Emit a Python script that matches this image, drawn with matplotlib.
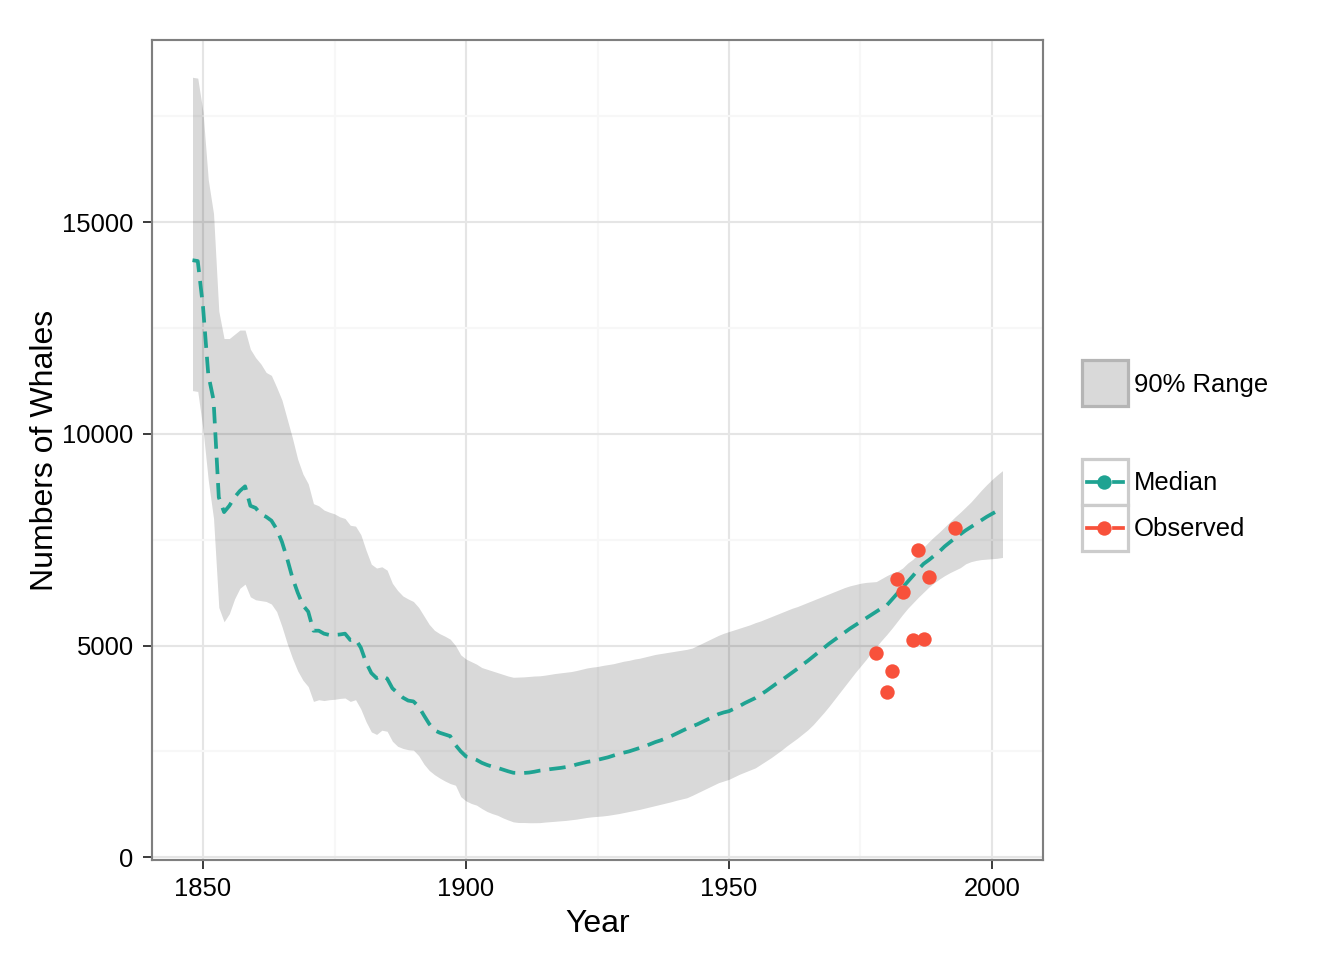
import matplotlib
matplotlib.use("Agg")
import matplotlib.pyplot as plt
from matplotlib.patches import Rectangle
from matplotlib.lines import Line2D
import numpy as np

plt.rcParams['font.family'] = ['Liberation Sans', 'DejaVu Sans']

# yearly model output, 1848-2002
years = list(range(1848, 2003))

upper = [18420, 18400, 17600, 16000, 15200, 12900, 12250, 12250, 12350, 12450,
         12450, 12000, 11800, 11650, 11450, 11380, 11100, 10800, 10350, 9900,
         9400, 9050, 8820, 8350, 8300, 8200, 8150, 8110, 8040, 8000,
         7840, 7820, 7620, 7250, 6920, 6830, 6860, 6780, 6470, 6300,
         6170, 6100, 6040, 5900, 5700, 5500, 5360, 5280, 5220, 5150,
         5000, 4780, 4680, 4620, 4560, 4480, 4440, 4400, 4360, 4320,
         4280, 4250, 4255, 4260, 4270, 4280, 4285, 4300, 4320, 4340,
         4355, 4370, 4385, 4410, 4440, 4470, 4490, 4505, 4530, 4550,
         4570, 4600, 4630, 4650, 4680, 4700, 4730, 4760, 4790, 4810,
         4830, 4850, 4870, 4890, 4910, 4940, 5000, 5060, 5120, 5180,
         5240, 5290, 5330, 5370, 5410, 5450, 5490, 5540, 5580, 5630,
         5680, 5730, 5780, 5830, 5880, 5920, 5970, 6020, 6070, 6120,
         6170, 6220, 6270, 6320, 6370, 6410, 6440, 6470, 6490, 6500,
         6510, 6580, 6650, 6710, 6750, 6830, 6950, 7040, 7180, 7320,
         7450, 7570, 7680, 7800, 7920, 8040, 8150, 8270, 8390, 8530,
         8670, 8800, 8920, 9030, 9130]

lower = [11020, 11000, 10100, 8900, 8000, 5900, 5560, 5750, 6100, 6350,
         6450, 6150, 6080, 6060, 6040, 5980, 5800, 5450, 5050, 4700,
         4400, 4180, 4030, 3680, 3720, 3700, 3720, 3730, 3750, 3760,
         3680, 3720, 3500, 3200, 2960, 2900, 3000, 2975, 2740, 2620,
         2570, 2540, 2530, 2400, 2200, 2050, 1950, 1870, 1800, 1740,
         1700, 1430, 1330, 1270, 1230, 1150, 1080, 1030, 990, 930,
         880, 835, 820, 820, 815, 815, 817, 830, 840, 850,
         860, 870, 885, 900, 920, 940, 955, 965, 975, 990,
         1010, 1030, 1055, 1080, 1105, 1130, 1160, 1190, 1220, 1250,
         1280, 1310, 1345, 1375, 1405, 1460, 1520, 1580, 1640, 1700,
         1760, 1800, 1840, 1900, 1960, 2010, 2060, 2110, 2190, 2270,
         2350, 2440, 2530, 2630, 2720, 2810, 2910, 3010, 3130, 3270,
         3410, 3560, 3720, 3880, 4040, 4200, 4360, 4510, 4660, 4820,
         4970, 5120, 5260, 5410, 5570, 5730, 5880, 6010, 6140, 6260,
         6380, 6480, 6570, 6650, 6720, 6780, 6840, 6930, 6980, 7010,
         7030, 7040, 7050, 7060, 7080]

median = [14100, 14080, 13000, 11400, 10800, 8500, 8150, 8300, 8500, 8650,
          8760, 8300, 8250, 8100, 8040, 7950, 7750, 7450, 7050, 6600,
          6250, 5950, 5800, 5350, 5350, 5280, 5250, 5250, 5260, 5280,
          5130, 5150, 4950, 4600, 4350, 4230, 4290, 4220, 3990, 3880,
          3770, 3700, 3680, 3560, 3350, 3150, 3000, 2940, 2900, 2860,
          2650, 2500, 2380, 2350, 2300, 2230, 2180, 2140, 2110, 2070,
          2030, 1995, 1990, 1990, 2000, 2020, 2045, 2060, 2080, 2095,
          2110, 2130, 2150, 2190, 2220, 2250, 2270, 2300, 2330, 2360,
          2400, 2440, 2470, 2500, 2540, 2580, 2620, 2670, 2720, 2760,
          2810, 2860, 2920, 2980, 3040, 3090, 3140, 3200, 3260, 3320,
          3380, 3420, 3450, 3510, 3570, 3640, 3700, 3760, 3840, 3920,
          4010, 4100, 4180, 4270, 4360, 4450, 4550, 4640, 4740, 4840,
          4940, 5040, 5130, 5220, 5310, 5400, 5480, 5560, 5640, 5720,
          5800, 5880, 5950, 6090, 6230, 6370, 6510, 6650, 6800, 6930,
          7020, 7120, 7220, 7340, 7440, 7540, 7630, 7720, 7800, 7880,
          7960, 8040, 8110, 8180, 8250]

obs_years = [1978, 1980, 1981, 1982, 1983, 1985, 1986, 1987, 1988, 1993]
obs_counts = [4820, 3900, 4390, 6580, 6260, 5130, 7250, 5150, 6620, 7780]

teal = '#1FA392'
red = '#F8513B'
dash = (0, (4.4, 2.4))

fig = plt.figure(figsize=(7, 5), dpi=192)
ax = fig.add_axes([152/1344, 1-860/960, (1043-152)/1344, (860-40)/960])

ax.fill_between(years, lower, upper, color='black', alpha=0.15, lw=0, zorder=2)
ax.plot(years, median, color=teal, lw=1.4, ls=dash, zorder=3)
ax.plot(obs_years, obs_counts, 'o', color=red, ms=5.4, mec='none', zorder=4)

# ggplot-like 5% expansion
xr = years[-1] - years[0]
ax.set_xlim(years[0] - 0.05*xr, years[-1] + 0.05*xr)
ymin, ymax = min(lower), max(upper)
yr = ymax - ymin
ax.set_ylim(ymin - 0.05*yr, ymax + 0.05*yr)

ax.set_xticks([1850, 1900, 1950, 2000])
ax.set_xticks([1875, 1925, 1975], minor=True)
ax.set_yticks([0, 5000, 10000, 15000])
ax.set_yticks([2500, 7500, 12500, 17500], minor=True)
ax.grid(which='major', color='#E5E5E5', lw=0.8, zorder=0)
ax.grid(which='minor', color='#F7F7F7', lw=0.8, zorder=0)
ax.set_axisbelow(True)
ax.tick_params(which='major', length=3.5, width=0.7, color='#333333',
               labelsize=9.6, labelcolor='black')
ax.tick_params(axis='x', pad=3)
ax.tick_params(axis='y', pad=3.4)
ax.tick_params(which='minor', length=0)
for s in ax.spines.values():
    s.set_color('#7F7F7F')
    s.set_linewidth(0.8)

ax.set_xlabel('Year', fontsize=12, labelpad=3)
ax.set_ylabel('Numbers of Whales', fontsize=12, labelpad=1)

# legend drawn in pixel space
lg = fig.add_axes([0, 0, 1, 1], zorder=5)
lg.set_xlim(0, 1344)
lg.set_ylim(960, 0)
lg.axis('off')

lg.add_patch(Rectangle((1082, 360), 46, 46, facecolor='#D9D9D9',
                       edgecolor='#B5B5B5', lw=1.2))
lg.text(1134, 385, '90% Range', fontsize=9.6, va='center', ha='left')

for y0, col, lab in [(459, teal, 'Median'), (505, red, 'Observed')]:
    lg.add_patch(Rectangle((1082, y0), 46, 46, facecolor='white',
                           edgecolor='#CCCCCC', lw=1.2))
    # dashed key: long dash through the point, short gap, short dash
    lg.add_line(Line2D([1087, 1108], [y0+23, y0+23], color=col, lw=1.4))
    lg.add_line(Line2D([1114, 1123], [y0+23, y0+23], color=col, lw=1.4))
    lg.plot([1104], [y0+23], 'o', color=col, ms=5.4, mec='none')
    lg.text(1134, y0+24, lab, fontsize=9.6, va='center', ha='left')

fig.savefig('out.png', dpi=192)
